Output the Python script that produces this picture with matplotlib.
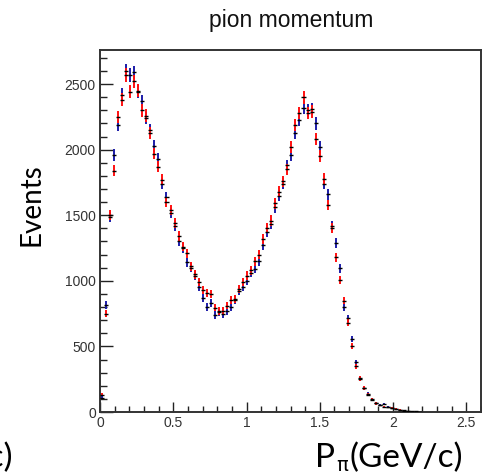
import numpy as np
import matplotlib
matplotlib.use("Agg")
import matplotlib.pyplot as plt
from matplotlib.ticker import MultipleLocator

# ---- data ----
bin_lo = 0.0
bin_width = 0.0275
blue_counts = [110, 815, 1490, 1960, 2190, 2420, 2600, 2570, 2590, 2440,
               2370, 2240, 2150, 2030, 1930, 1740, 1640, 1520, 1420, 1300,
               1250, 1140, 1100, 1040, 950, 870, 800, 830, 740, 760,
               745, 770, 800, 855, 920, 950, 1000, 1060, 1090, 1150,
               1270, 1370, 1430, 1560, 1650, 1740, 1880, 1960, 2130, 2230,
               2320, 2300, 2310, 2200, 2020, 1740, 1660, 1420, 1290, 1095,
               800, 715, 555, 380, 260, 180, 140, 95, 70, 55,
               60, 40, 30, 25, 15, 12, 6, 4, 2, 1]
red_counts = [130, 750, 1500, 1840, 2250, 2380, 2570, 2440, 2520, 2450,
              2300, 2260, 2130, 1970, 1870, 1770, 1600, 1540, 1440, 1340,
              1260, 1210, 1110, 1050, 990, 930, 910, 900, 795, 770,
              770, 810, 855, 860, 935, 990, 1040, 1080, 1150, 1200,
              1320, 1400, 1460, 1590, 1680, 1760, 1850, 2020, 2190, 2280,
              2400, 2280, 2290, 2080, 1950, 1780, 1580, 1400, 1180, 1005,
              850, 680, 500, 350, 255, 185, 130, 100, 65, 50,
              40, 35, 30, 22, 18, 10, 8, 3, 4, 2]
title = "pion momentum"
ylabel = "Events"
xlabel_main = "P"
xlabel_sub = "\u03c0"
xlabel_unit = "(GeV/c)"
x_ticks = [0, 0.5, 1, 1.5, 2, 2.5]
x_ticklabels = ["0", "0.5", "1", "1.5", "2", "2.5"]
y_ticks = [0, 500, 1000, 1500, 2000, 2500]
y_ticklabels = ["0", "500", "1000", "1500", "2000", "2500"]

n_bins = len(blue_counts)
edges = bin_lo + bin_width * np.arange(n_bins + 1)
centers = 0.5 * (edges[:-1] + edges[1:])
blue = np.array(blue_counts, dtype=float)
red = np.array(red_counts, dtype=float)

W, H = 482, 476
fig = plt.figure(figsize=(W / 100, H / 100), dpi=100)
ax = fig.add_axes([100 / W, 1 - 412 / H, 381 / W, 362 / H])

BLUE = "#1c1ca8"
RED = "#ff1010"
ax.errorbar(centers, blue, yerr=np.sqrt(blue), fmt="none", ecolor=BLUE,
            elinewidth=1.4, capsize=0, zorder=3)
ax.errorbar(centers, red, yerr=np.sqrt(red), fmt="none", ecolor=RED,
            elinewidth=1.4, capsize=0, zorder=4)
ax.errorbar(centers, blue, xerr=bin_width / 2, fmt="none", ecolor="black",
            elinewidth=1.0, capsize=0, zorder=5)
ax.errorbar(centers, red, xerr=bin_width / 2, fmt="none", ecolor="black",
            elinewidth=1.0, capsize=0, zorder=5)

ax.set_xlim(0, 2.6)
ax.set_ylim(0, 2760)
ax.set_xticks(x_ticks)
ax.set_xticklabels(x_ticklabels)
ax.set_yticks(y_ticks)
ax.set_yticklabels(y_ticklabels)
ax.xaxis.set_minor_locator(MultipleLocator(0.1))
ax.yaxis.set_minor_locator(MultipleLocator(100))
ax.tick_params(axis="both", which="both", direction="in", colors="#222222",
               labelcolor="#333333", width=1.0)
ax.tick_params(axis="x", which="major", length=7, labelsize=10, pad=3)
ax.tick_params(axis="x", which="minor", length=4)
ax.tick_params(axis="y", which="major", length=9, labelsize=10, pad=3)
ax.tick_params(axis="y", which="minor", length=5)
for lab in ax.get_xticklabels() + ax.get_yticklabels():
    lab.set_family("Liberation Sans")
for s in ax.spines.values():
    s.set_color("#333333")
    s.set_linewidth(1.4)

fig.text(291 / W, 1 - 21 / H, title, ha="center", va="center",
         fontsize=16.5, family="Liberation Sans", color="#111111")
fig.text(32 / W, 1 - 205 / H, ylabel, rotation=90, ha="center", va="center",
         fontsize=20, family="Lato", color="black")
# x label: P, subscript pi, (GeV/c)
fig.text(315 / W, 1 - 467 / H, xlabel_main, ha="left", va="baseline",
         fontsize=24, family="Lato", color="black")
fig.text(336 / W, 1 - 475 / H, xlabel_sub, ha="left", va="bottom",
         fontsize=14, family=["DejaVu Sans"], color="black")
fig.text(463 / W, 1 - 467 / H, xlabel_unit, ha="right", va="baseline",
         fontsize=24, family="Lato", color="black")
fig.text(13 / W, 1 - 467 / H, xlabel_unit, ha="right", va="baseline",
         fontsize=24, family="Lato", color="black")

fig.savefig("out.png", dpi=100)
